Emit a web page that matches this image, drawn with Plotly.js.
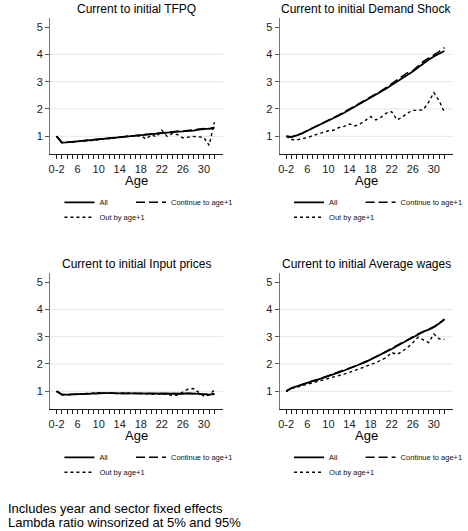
<!DOCTYPE html>
<html>
<head>
<meta charset="utf-8">
<script src="https://cdn.plot.ly/plotly-3.0.1.min.js"></script>
<style>
  html, body { margin: 0; padding: 0; background: #fff; }
  #chart { width: 468px; height: 531px; }
</style>
</head>
<body>
<div id="chart"></div>
<script>
// firm age, the first bin is 0-2
const ages = [2,3,4,5,6,7,8,9,10,11,12,13,14,15,16,17,18,19,20,21,22,23,24,25,26,27,28,29,30,31,32];
const tickAges = [2,6,10,14,18,22,26,30];
const tickLabels = ['0-2','6','10','14','18','22','26','30'];
const yTicks = [1,2,3,4,5];
const gridLevels = [1,2,3,4];

const seriesNames = ['All', 'Continue to age+1', 'Out by age+1'];
const panelTitles = ['Current to initial TFPQ', 'Current to initial Demand Shock',
                     'Current to initial Input prices', 'Current to initial Average wages'];
const xTitle = 'Age';
const notes = ['Includes year and sector fixed effects', 'Lambda ratio winsorized at 5% and 95%'];

const tfpqAll  = [1.00,0.77,0.78,0.80,0.81,0.83,0.85,0.87,0.89,0.91,0.93,0.95,0.97,0.99,1.01,1.03,1.05,1.07,1.09,1.10,1.12,1.14,1.16,1.17,1.18,1.19,1.21,1.24,1.27,1.28,1.30];
const tfpqCont = [1.00,0.77,0.78,0.80,0.82,0.83,0.85,0.87,0.89,0.91,0.94,0.95,0.97,1.00,1.01,1.03,1.06,1.08,1.10,1.11,1.12,1.15,1.17,1.18,1.19,1.21,1.22,1.25,1.28,1.27,1.33];
const tfpqOut  = [1.00,0.77,0.78,0.79,0.80,0.82,0.84,0.85,0.87,0.89,0.92,0.94,0.95,0.98,1.03,1.00,1.02,0.90,1.05,0.98,1.22,1.00,1.10,1.06,0.94,0.97,0.99,0.98,0.95,0.67,1.52];

const demandAll  = [1.00,0.97,1.03,1.10,1.20,1.29,1.38,1.47,1.57,1.66,1.76,1.86,1.97,2.07,2.18,2.29,2.40,2.51,2.62,2.75,2.88,3.00,3.13,3.25,3.37,3.52,3.67,3.80,3.92,4.02,4.12];
const demandCont = [1.00,0.98,1.04,1.11,1.21,1.30,1.40,1.49,1.59,1.68,1.78,1.89,1.99,2.10,2.21,2.32,2.44,2.54,2.66,2.79,2.92,3.04,3.18,3.33,3.40,3.58,3.74,3.86,3.97,4.10,4.25];
const demandOut  = [1.00,0.88,0.87,0.90,0.95,1.02,1.08,1.13,1.20,1.22,1.32,1.36,1.45,1.38,1.45,1.58,1.72,1.60,1.70,1.85,1.90,1.60,1.70,1.85,1.95,1.95,1.97,2.25,2.60,2.30,1.88];

const inputAll  = [1.00,0.88,0.88,0.89,0.89,0.90,0.91,0.92,0.92,0.93,0.93,0.92,0.92,0.92,0.92,0.92,0.91,0.91,0.91,0.90,0.90,0.90,0.90,0.90,0.91,0.93,0.92,0.90,0.89,0.88,0.90];
const inputCont = [1.00,0.88,0.88,0.89,0.90,0.90,0.91,0.92,0.93,0.93,0.93,0.92,0.92,0.92,0.92,0.92,0.91,0.91,0.91,0.90,0.90,0.90,0.90,0.91,0.90,0.92,0.91,0.89,0.89,0.88,0.89];
const inputOut  = [1.00,0.87,0.87,0.88,0.89,0.91,0.93,0.94,0.95,0.93,0.94,0.92,0.91,0.94,0.93,0.92,0.90,0.91,0.90,0.89,0.92,0.88,0.85,0.86,0.98,1.08,1.10,0.95,0.82,0.86,1.05];

const wageAll  = [1.00,1.12,1.18,1.25,1.31,1.37,1.43,1.49,1.56,1.62,1.69,1.76,1.83,1.91,1.99,2.07,2.16,2.25,2.35,2.45,2.55,2.66,2.77,2.88,2.98,3.09,3.18,3.26,3.35,3.48,3.63];
const wageCont = [1.00,1.12,1.18,1.25,1.31,1.38,1.43,1.50,1.56,1.63,1.69,1.77,1.84,1.92,2.00,2.08,2.17,2.26,2.36,2.46,2.56,2.67,2.78,2.89,2.99,3.10,3.19,3.27,3.36,3.49,3.64];
const wageOut  = [1.00,1.10,1.15,1.20,1.26,1.31,1.36,1.41,1.46,1.51,1.57,1.63,1.69,1.76,1.83,1.90,1.97,2.05,2.14,2.24,2.42,2.35,2.46,2.60,2.78,2.98,2.88,2.78,3.10,2.92,2.90];

const panelData = [
  [tfpqAll, tfpqCont, tfpqOut],
  [demandAll, demandCont, demandOut],
  [inputAll, inputCont, inputOut],
  [wageAll, wageCont, wageOut]
];

// page geometry, in pixels
const W = 468, H = 531;
const FONT = 'Liberation Sans, Arial, sans-serif';
const colsPx = [[50.7, 226], [283.3, 459]];
const rowsPx = [[18.3, 154.3], [273.3, 409.3]];
const px2x = p => p / W;
const px2y = p => 1 - p / H;

const dashes = ['solid', '9px,4px', 'dot'];
const widths = [1.8, 1.6, 1.4];
// legend key offsets from the panel's left edge / bottom axis
const legDx = [9.5, 82, 9.5];
const legDy = [48, 48, 63];

const tickText = ages.map(a => {
  const i = tickAges.indexOf(a);
  return i >= 0 ? tickLabels[i] : '';
});

var data = [];
var layout = {
  width: W, height: H,
  margin: {l: 0, r: 0, t: 0, b: 0},
  paper_bgcolor: '#fff', plot_bgcolor: '#fff',
  font: {family: FONT, color: '#000'},
  showlegend: true,
  annotations: [],
  shapes: []
};

panelData.forEach(function(series, p){
  const col = p % 2, row = Math.floor(p / 2);
  const n = p + 1;
  const xName = n === 1 ? 'x' : 'x' + n;
  const yName = n === 1 ? 'y' : 'y' + n;
  const midX = px2x((colsPx[col][0] + colsPx[col][1]) / 2);

  series.forEach(function(vals, s){
    const k = 3 * p + s + 1;
    const legName = k === 1 ? 'legend' : 'legend' + k;
    data.push({
      x: ages, y: vals,
      type: 'scatter', mode: 'lines',
      name: seriesNames[s],
      xaxis: xName, yaxis: yName,
      legend: legName,
      line: {color: '#000', width: widths[s], dash: dashes[s]},
      hoverinfo: 'skip'
    });
    layout[legName] = {
      orientation: 'h', xanchor: 'left', yanchor: 'middle',
      x: px2x(colsPx[col][0] + legDx[s]),
      y: px2y(rowsPx[row][1] + legDy[s]),
      font: {size: 7.5, color: '#111', family: FONT},
      bgcolor: 'rgba(0,0,0,0)', borderwidth: 0,
      itemwidth: 30, itemclick: false, itemdoubleclick: false
    };
  });

  layout['xaxis' + (n === 1 ? '' : n)] = {
    domain: [px2x(colsPx[col][0]), px2x(colsPx[col][1])],
    anchor: yName,
    range: [0.76, 33.65],
    tickmode: 'array', tickvals: ages, ticktext: tickText,
    ticks: 'outside', ticklen: 4, tickwidth: 1, tickcolor: '#222',
    tickfont: {size: 11, color: '#222'},
    showline: true, linecolor: '#222', linewidth: 1,
    showgrid: false, zeroline: false
  };
  layout['yaxis' + (n === 1 ? '' : n)] = {
    domain: [px2y(rowsPx[row][1]), px2y(rowsPx[row][0])],
    anchor: xName,
    range: [0.34, 5.32],
    tickmode: 'array', tickvals: yTicks,
    ticks: 'outside', ticklen: 4, tickwidth: 1, tickcolor: '#555',
    tickfont: {size: 11, color: '#222'},
    showline: true, linecolor: '#777', linewidth: 1,
    showgrid: false, zeroline: false
  };

  gridLevels.forEach(function(g){
    layout.shapes.push({
      type: 'line', layer: 'below',
      xref: xName + ' domain', yref: yName,
      x0: 0, x1: 1, y0: g, y1: g,
      line: {color: '#e6e6e6', width: 1}
    });
  });

  layout.annotations.push({
    text: panelTitles[p],
    xref: 'paper', yref: 'paper',
    x: midX, y: px2y(rowsPx[row][0] - 9.5),
    xanchor: 'center', yanchor: 'middle',
    showarrow: false,
    font: {size: 12, color: '#000'}
  });
  // axis title placed by hand, Plotly puts it a few px too low
  layout.annotations.push({
    text: xTitle,
    xref: 'paper', yref: 'paper',
    x: midX, y: px2y(rowsPx[row][1] + 26),
    xanchor: 'center', yanchor: 'middle',
    showarrow: false,
    font: {size: 13, color: '#000'}
  });
});

notes.forEach(function(line, i){
  layout.annotations.push({
    text: line,
    xref: 'paper', yref: 'paper',
    x: px2x(6), y: px2y(508.5 + 13.5 * i),
    xanchor: 'left', yanchor: 'middle', align: 'left',
    showarrow: false,
    font: {size: 13, color: '#000'}
  });
});

Plotly.newPlot('chart', data, layout, {staticPlot: true, displayModeBar: false});
</script>
</body>
</html>
